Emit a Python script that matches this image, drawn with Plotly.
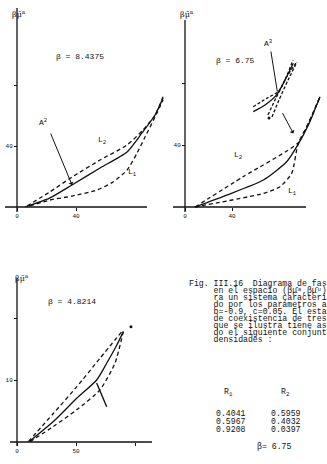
import plotly.graph_objects as go

W, H = 327, 464

# ---------------- data ----------------
# Panel 1 : beta = 8.4375
p1_A_x = [5.4, 22.4, 37.3, 56.3, 74.6, 84.7, 93.6, 99.0]
p1_A_y = [0.0, 6.0, 14.5, 25.7, 36.2, 48.7, 60.5, 71.7]
p1_L2_x = [6.8, 22.4, 37.3, 56.3, 74.6, 85.4, 93.6, 99.0]
p1_L2_y = [0.7, 10.0, 19.7, 30.9, 40.8, 50.7, 60.5, 72.5]
p1_L1_x = [8.8, 22.4, 37.3, 54.2, 65.1, 74.6, 81.4, 86.8, 94.9, 99.0]
p1_L1_y = [0.7, 4.6, 7.2, 11.2, 16.4, 24.3, 35.5, 46.0, 61.8, 70.4]

# Panel 2 : beta = 6.75
p2_A_x = [8.5, 35.5, 66.7, 86.5, 96.4, 105.0, 114.9]
p2_A_y = [0.0, 7.7, 17.4, 29.2, 40.6, 52.9, 71.2]
p2_L2_x = [8.5, 49.6, 96.4, 105.0, 114.9]
p2_L2_y = [0.0, 19.6, 41.5, 54.0, 71.2]
p2_L1_x = [8.5, 66.7, 80.9, 90.8, 96.4, 105.0, 114.9]
p2_L1_y = [0.0, 8.8, 13.1, 21.7, 41.1, 54.0, 71.2]
# inset (triple point region A3)
p2_iA_x = [58.1, 68.1, 78.0, 83.7, 92.2]
p2_iA_y = [61.5, 65.8, 72.3, 79.8, 92.7]
p2_iB_x = [58.1, 69.5, 79.4, 86.6, 95.1]
p2_iB_y = [64.7, 70.1, 74.4, 84.1, 93.7]
p2_iC_x = [74.0, 80.0, 87.7, 95.3]
p2_iC_y = [58.1, 69.0, 81.9, 93.5]
p2_iD_x = [70.6, 77.4, 85.1, 91.9]
p2_iD_y = [59.4, 70.3, 81.9, 94.8]
p2_pt_x = [71.5]
p2_pt_y = [57.4]

# Panel 3 : beta = 4.8214
p3_A_x = [11.0, 30.8, 50.6, 67.5, 76.0, 84.5, 90.1]
p3_A_y = [0.16, 3.3, 7.05, 10.0, 12.7, 15.6, 17.8]
p3_L2_x = [9.6, 30.8, 50.6, 70.3, 90.1]
p3_L2_y = [0.05, 4.6, 8.9, 13.5, 18.1]
p3_L1_x = [11.0, 30.8, 50.6, 70.3, 83.0, 90.1]
p3_L1_y = [0.05, 2.5, 5.2, 8.4, 12.7, 17.8]
p3_tie_x = [67.5, 76.0]
p3_tie_y = [9.5, 5.7]
p3_pt_x = [96.6]
p3_pt_y = [18.6]

# ticks (labelled) and unlabelled tick marks
p1_xt, p1_xl, p1_xm = [0, 40], ["0", "40"], []
p1_yt, p1_yl, p1_ym = [40], ["40"], [80]
p2_xt, p2_xl, p2_xm = [0, 40], ["0", "40"], []
p2_yt, p2_yl, p2_ym = [40], ["40"], [80]
p3_xt, p3_xl, p3_xm = [0, 50], ["0", "50"], [100]
p3_yt, p3_yl, p3_ym = [10], ["10"], [20]

# caption
caption = [
    "Fig. III.16  Diagrama de fas",
    "     en el espacio (βμ̄ᵃ,βμ̄ᵘ) pa",
    "     ra un sistema caracteri",
    "     do por los parámetros a",
    "     b=-0.9, c=0.05. El esta",
    "     de coexistencia de tres",
    "     que se ilustra tiene as",
    "     do el siguiente conjunt",
    "     densidades :",
]
col_R1 = ["0.4041", "0.5967", "0.9208"]
col_R2 = ["0.5959", "0.4032", "0.0397"]
beta_note = "β= 6.75"

# ---------------- layout geometry (pixels) ----------------
panels = {
    1: dict(x_px=(5, 166), y_px=(5, 213), o=(17, 207), s=(1.475, 1.52),
            axx=(-8.1, 88.1), axy=(-3.3, 131.0)),
    2: dict(x_px=(170, 325), y_px=(5, 213), o=(185, 207), s=(1.175, 1.55),
            axx=(-10.2, 103.0), axy=(-3.2, 120.6)),
    3: dict(x_px=(8, 160), y_px=(270, 448), o=(17, 442), s=(1.18, 6.2),
            axx=(-5.9, 114.4), axy=(-0.65, 26.5)),
}

MONO = "Liberation Mono"
INK = "#111111"

fig = go.Figure()

def add_line(i, xs, ys, dash="solid", width=1.3):
    fig.add_trace(go.Scatter(x=xs, y=ys, mode="lines", xaxis=f"x{i}", yaxis=f"y{i}",
                             line=dict(color=INK, width=width, dash=dash, shape="spline",
                                       smoothing=0.6),
                             showlegend=False, hoverinfo="skip"))

DASH = "4px,3px"
add_line(1, p1_A_x, p1_A_y)
add_line(1, p1_L2_x, p1_L2_y, DASH)
add_line(1, p1_L1_x, p1_L1_y, DASH)
add_line(2, p2_A_x, p2_A_y)
add_line(2, p2_L2_x, p2_L2_y, DASH)
add_line(2, p2_L1_x, p2_L1_y, DASH)
add_line(2, p2_iA_x, p2_iA_y)
add_line(2, p2_iB_x, p2_iB_y, "3px,2px")
add_line(2, p2_iC_x, p2_iC_y, "3px,2px")
add_line(2, p2_iD_x, p2_iD_y, "3px,2px")
add_line(3, p3_A_x, p3_A_y)
add_line(3, p3_L2_x, p3_L2_y, DASH)
add_line(3, p3_L1_x, p3_L1_y, DASH)
add_line(3, p3_tie_x, p3_tie_y, width=1.4)
for i, xs, ys in [(2, p2_pt_x, p2_pt_y), (3, p3_pt_x, p3_pt_y)]:
    fig.add_trace(go.Scatter(x=xs, y=ys, mode="markers", xaxis=f"x{i}", yaxis=f"y{i}",
                             marker=dict(color=INK, size=3), showlegend=False,
                             hoverinfo="skip", cliponaxis=False))

ticks = {1: (p1_xt, p1_xl, p1_xm, p1_yt, p1_yl, p1_ym),
         2: (p2_xt, p2_xl, p2_xm, p2_yt, p2_yl, p2_ym),
         3: (p3_xt, p3_xl, p3_xm, p3_yt, p3_yl, p3_ym)}

layout = dict(width=W, height=H, margin=dict(l=0, r=0, t=0, b=0),
              paper_bgcolor="white", plot_bgcolor="white", showlegend=False)
shapes = []
for i, p in panels.items():
    (x0, x1), (yt, yb), (ox, oy), (sx, sy) = p["x_px"], p["y_px"], p["o"], p["s"]
    xr = [(x0 - ox) / sx, (x1 - ox) / sx]
    yr = [(oy - yb) / sy, (oy - yt) / sy]
    xd = [x0 / W, x1 / W]
    yd = [1 - yb / H, 1 - yt / H]
    xpos = yd[0] + (0 - yr[0]) / (yr[1] - yr[0]) * (yd[1] - yd[0])
    ypos = xd[0] + (0 - xr[0]) / (xr[1] - xr[0]) * (xd[1] - xd[0])
    xt, xl, xm, ytv, yl, ym = ticks[i]
    tf = dict(family=MONO, size=6, color=INK)
    common = dict(showgrid=False, zeroline=False, showline=False, ticks="outside",
                  ticklen=3, tickwidth=1, tickcolor=INK, tickfont=tf, fixedrange=True)
    layout[f"xaxis{i}"] = dict(domain=xd, range=xr, anchor="free", position=xpos,
                               tickvals=xt, ticktext=xl,
                               minor=dict(tickvals=xm, ticks="outside", ticklen=3,
                                          tickwidth=1, tickcolor=INK, showgrid=False),
                               **common)
    layout[f"yaxis{i}"] = dict(domain=yd, range=yr, anchor="free", position=ypos,
                               tickvals=ytv, ticktext=yl,
                               minor=dict(tickvals=ym, ticks="outside", ticklen=3,
                                          tickwidth=1, tickcolor=INK, showgrid=False),
                               **common)
    shapes.append(dict(type="line", xref=f"x{i}", yref=f"y{i}", x0=p["axx"][0], x1=p["axx"][1],
                       y0=0, y1=0, line=dict(color=INK, width=1.3)))
    shapes.append(dict(type="line", xref=f"x{i}", yref=f"y{i}", x0=0, x1=0,
                       y0=p["axy"][0], y1=p["axy"][1], line=dict(color=INK, width=1.3)))
layout["shapes"] = shapes
fig.update_layout(**layout)

ann = []
def txt(i, x, y, t, size=8, xanchor="center", family=MONO):
    ann.append(dict(xref=f"x{i}", yref=f"y{i}", x=x, y=y, text=t, showarrow=False,
                    xanchor=xanchor, yanchor="middle", borderpad=0,
                    font=dict(family=family, size=size, color=INK)))

def arrow(i, x, y, ax, ay, head=1):
    ann.append(dict(xref=f"x{i}", yref=f"y{i}", axref=f"x{i}", ayref=f"y{i}", x=x, y=y,
                    ax=ax, ay=ay, text="", showarrow=True, arrowhead=head, arrowsize=0.9,
                    arrowwidth=1, arrowcolor=INK, standoff=0, startstandoff=0))

HAND = "DejaVu Serif"
ylab = "βμ̄<sup>a</sup>"
xlab = "βμ̄<sup>u</sup>"
# panel 1
txt(1, 1.4, 127, ylab, 8, family=HAND)
txt(1, 94.9, -6.6, xlab, 8, family=HAND)
txt(1, 25.8, 98.7, "β = 8.4375", 8, "left")
txt(1, 17.6, 55.9, "A<sup>2</sup>", 8)
arrow(1, 37.3, 14.5, 22.4, 49.3)
txt(1, 57.6, 44.0, "L<sub>2</sub>", 8)
txt(1, 78.6, 22.4, "L<sub>1</sub>", 8)
# panel 2
txt(2, 1.7, 124.5, ylab, 8, family=HAND)
txt(2, 111.5, -4.5, xlab, 8, family=HAND)
txt(2, 25.5, 94.2, "β = 6.75", 8, "left")
txt(2, 70.6, 105.8, "A<sup>3</sup>", 8)
arrow(2, 78.6, 74.4, 72.9, 101.3, head=0)
arrow(2, 92.2, 47.5, 82.3, 61.5)
txt(2, 45.1, 33.5, "L<sub>2</sub>", 8)
txt(2, 91.9, 9.7, "L<sub>1</sub>", 8)
# panel 3
txt(3, 4.2, 26.5, ylab, 8, family=HAND)
txt(3, 112.7, -1.1, xlab, 8, family=HAND)
txt(3, 25.2, 22.6, "β = 4.8214", 8, "left")

# caption block (paper coords from pixel positions)
def ptxt(px, py, t, xanchor="left", size=8.2):
    ann.append(dict(xref="paper", yref="paper", x=px / W, y=1 - py / H, text=t,
                    showarrow=False, xanchor=xanchor, yanchor="middle", borderpad=0,
                    font=dict(family=MONO, size=size, color=INK)))

for k, line in enumerate(caption):
    ptxt(188, 283 + 7.1 * k, line.replace(" ", "\u00a0"))
ptxt(229, 392, "R<sub>1</sub>", "center")
ptxt(285, 392, "R<sub>2</sub>", "center")
for k, (a, b) in enumerate(zip(col_R1, col_R2)):
    ptxt(215, 413 + 8 * k, a)
    ptxt(270, 413 + 8 * k, b)
ptxt(256, 446, beta_note)

fig.update_layout(annotations=ann)
fig.write_html("out.html", config={"displayModeBar": False},
               post_script="document.body.style.margin='0';document.body.style.overflow='hidden';")
